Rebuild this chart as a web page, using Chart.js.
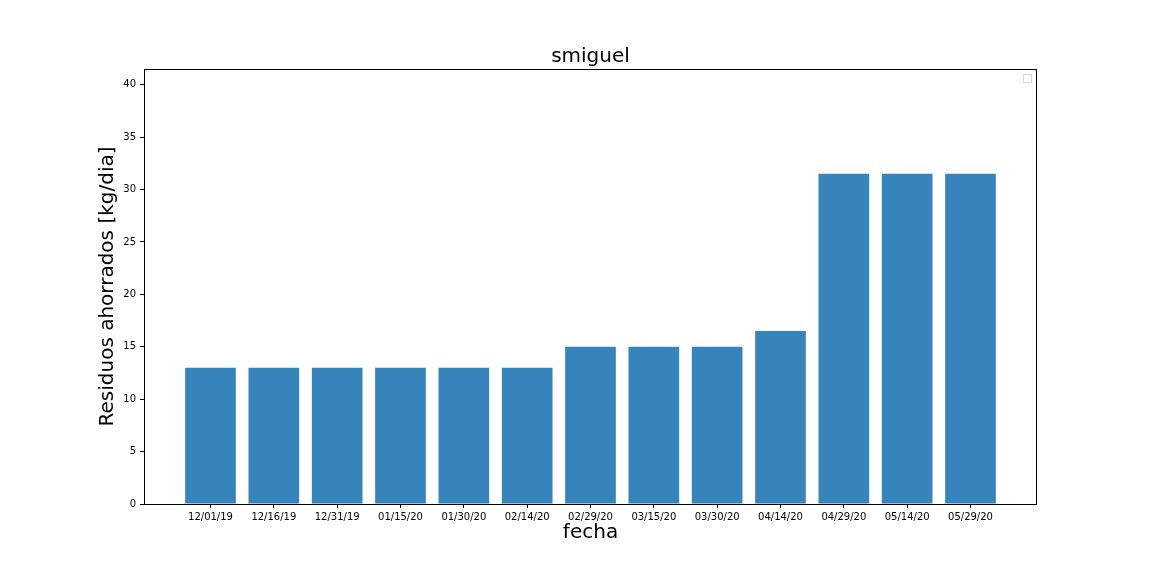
<!DOCTYPE html>
<html>
<head>
<meta charset="utf-8">
<script src="https://cdn.jsdelivr.net/npm/chart.js@4/dist/chart.umd.min.js"></script>
<style>
  html, body { margin: 0; padding: 0; background: #fff; }
  #wrap { width: 1152px; height: 576px; position: relative; }
</style>
</head>
<body>
<div id="wrap"><canvas id="chart"></canvas></div>
<script>
// Data
const fechas = ['12/01/19', '12/16/19', '12/31/19', '01/15/20', '01/30/20', '02/14/20',
    '02/29/20', '03/15/20', '03/30/20', '04/14/20', '04/29/20', '05/14/20', '05/29/20'];
const residuos = [13, 13, 13, 13, 13, 13, 15, 15, 15, 16.5, 31.5, 31.5, 31.5];
const yTicks = [0, 5, 10, 15, 20, 25, 30, 35, 40];

const font = "'DejaVu Sans', sans-serif";

// Outline the plot area and draw the empty legend box
const framePlugin = {
    id: 'frame',
    afterDraw(chart) {
        const a = chart.chartArea;
        const c = chart.ctx;
        c.save();
        c.strokeStyle = '#000';
        c.lineWidth = 1;
        c.strokeRect(Math.round(a.left) + 0.5, Math.round(a.top) + 0.5,
            Math.round(a.right - a.left) - 1, Math.round(a.bottom - a.top));
        c.strokeStyle = '#d8d8d8';
        c.strokeRect(Math.round(a.right) - 13.5, Math.round(a.top) + 5.5, 8, 8);
        c.restore();
    }
};

const ctx = document.getElementById('chart').getContext('2d');
new Chart(ctx, {
    type: 'bar',
    data: {
        datasets: [{
            data: residuos.map((v, i) => ({ x: i, y: v })),
            backgroundColor: '#3584bb',
            borderWidth: 0,
            barPercentage: 0.8,
            categoryPercentage: 1
        }]
    },
    options: {
        responsive: true,
        maintainAspectRatio: false,
        animation: false,
        layout: { padding: { left: 0, right: 115, top: 0, bottom: 0 } },
        plugins: {
            legend: { display: false },
            tooltip: { enabled: false },
            title: {
                display: true,
                text: 'smiguel',
                fullSize: false,
                color: '#000',
                font: { family: font, size: 20, weight: 'normal' },
                padding: { top: 45, bottom: 0 }
            }
        },
        scales: {
            x: {
                type: 'linear',
                min: -1.05,
                max: 13.05,
                offset: false,
                afterBuildTicks(scale) {
                    scale.ticks = fechas.map((f, i) => ({ value: i }));
                },
                afterFit(scale) { scale.height = 72; },
                ticks: {
                    color: '#000',
                    font: { family: font, size: 10 },
                    maxRotation: 0,
                    autoSkip: false,
                    padding: 3,
                    callback: (v) => fechas[v]
                },
                grid: { display: true, offset: false, drawOnChartArea: false, drawTicks: true, tickLength: 4, color: '#000' },
                border: { display: false },
                title: {
                    display: true,
                    text: 'fecha',
                    color: '#000',
                    font: { family: font, size: 20 },
                    padding: { top: 0, bottom: 31 }
                }
            },
            y: {
                min: 0,
                max: 41.5,
                afterBuildTicks(scale) {
                    scale.ticks = yTicks.map(v => ({ value: v }));
                },
                afterFit(scale) { scale.width = 144; },
                ticks: {
                    color: '#000',
                    font: { family: font, size: 10 },
                    padding: 4
                },
                grid: { display: true, drawOnChartArea: false, drawTicks: true, tickLength: 4, color: '#000' },
                border: { display: false },
                title: {
                    display: true,
                    text: 'Residuos ahorrados [kg/dia]',
                    color: '#000',
                    font: { family: font, size: 20 },
                    padding: { top: 96, bottom: 0 }
                }
            }
        }
    },
    plugins: [framePlugin]
});
</script>
</body>
</html>
